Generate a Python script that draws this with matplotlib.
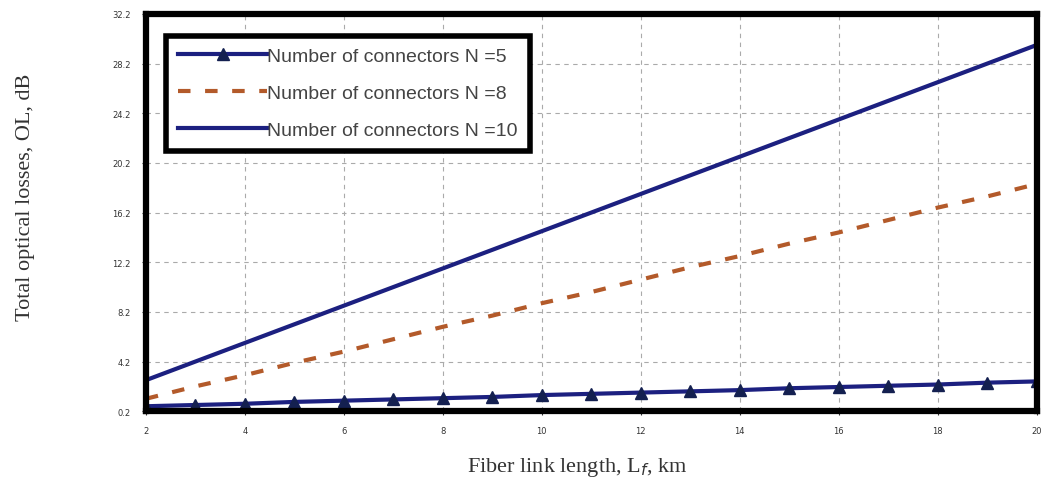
import numpy as np
import matplotlib
matplotlib.use('Agg')
import matplotlib.pyplot as plt

# fiber length, km
length = [2, 3, 4, 5, 6, 7, 8, 9, 10, 11, 12, 13, 14, 15, 16, 17, 18, 19, 20]
# total optical losses, dB
ol_n5 = [0.6, 0.7, 0.8, 0.95, 1.05, 1.15, 1.25, 1.35, 1.5, 1.6, 1.7, 1.8, 1.9, 2.05, 2.15, 2.25, 2.35, 2.5, 2.6]
ol_n8 = [1.2, 2.2, 3.1, 4.1, 5.0, 6.0, 7.0, 7.9, 8.9, 9.8, 10.8, 11.8, 12.7, 13.7, 14.6, 15.6, 16.6, 17.5, 18.5]
ol_n10 = [2.7, 4.2, 5.7, 7.2, 8.7, 10.2, 11.7, 13.2, 14.7, 16.2, 17.7, 19.2, 20.7, 22.2, 23.7, 25.2, 26.7, 28.2, 29.7]
labels = ['Number of connectors N =5', 'Number of connectors N =8', 'Number of connectors N =10']
xticks = [2, 4, 6, 8, 10, 12, 14, 16, 18, 20]
yticks = [0.2, 4.2, 8.2, 12.2, 16.2, 20.2, 24.2, 28.2, 32.2]

navy = '#1c2080'
brown = '#b35a2a'

fig = plt.figure(figsize=(10.42, 4.81), dpi=100)
ax = fig.add_axes([0.140, 0.143, 0.855, 0.826])

ax.plot(length, ol_n5, color=navy, lw=3, marker='^', markersize=8,
        markerfacecolor='#142050', markeredgecolor='#142050', label=labels[0])
ax.plot(length, ol_n8, color=brown, lw=3, ls=(0, (3, 3.5)), label=labels[1])
ax.plot(length, ol_n10, color=navy, lw=3, label=labels[2])

ax.set_xlim(2, 20)
ax.set_ylim(0.2, 32.2)
ax.set_xticks(xticks)
ax.set_yticks(yticks)
ax.set_xticklabels([str(t) for t in xticks])
ax.set_yticklabels([str(t) for t in yticks])
ax.tick_params(labelsize=6, length=3, pad=8, colors='#333333')
ax.grid(True, ls=(0, (4, 4)), color='#aaaaaa', lw=0.8)
for s in ax.spines.values():
    s.set_linewidth(4.5)
    s.set_color('black')

ax.set_xlabel('Fiber link length, L$_f$, km', family='Liberation Serif', fontsize=16, color='#333333')
ax.set_ylabel('Total optical losses, OL, dB', family='Liberation Serif', fontsize=16, color='#333333')
ax.xaxis.set_label_coords(0.484, -0.11)
ax.yaxis.set_label_coords(-0.124, 0.54)

leg = ax.legend(loc='upper left', bbox_to_anchor=(0.012, 0.97), handlelength=4.6,
                handletextpad=0.0, borderpad=0.6, labelspacing=1.0, fancybox=False,
                prop={'family': 'Liberation Sans', 'size': 14})
leg.get_frame().set_linewidth(4)
leg.get_frame().set_edgecolor('black')
leg.get_frame().set_alpha(1)
for t in leg.get_texts():
    t.set_color('#444444')

fig.savefig('out.png', dpi=100)
